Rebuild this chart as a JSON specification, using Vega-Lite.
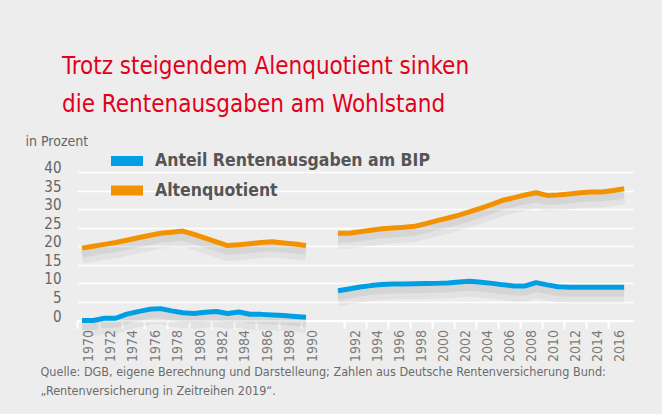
{
  "$schema": "https://vega.github.io/schema/vega-lite/v6.json",
  "autosize": {"type": "none"},
  "padding": {"left": 77, "top": 172, "right": 29, "bottom": 93.5},
  "width": 556,
  "height": 148.5,
  "background": "#ededed",
  "config": {
    "view": {"stroke": null},
    "font": "DejaVu Sans Condensed, sans-serif"
  },
  "title": {
    "text": ["Trotz steigendem Alenquotient sinken", "die Rentenausgaben am Wohlstand"],
    "anchor": "start",
    "frame": "group",
    "color": "#e3001b",
    "fontSize": 24,
    "fontWeight": "normal",
    "font": "DejaVu Sans Condensed, sans-serif",
    "lineHeight": 38,
    "dx": -15,
    "offset": 17
  },
  "data": {
    "values": [
      {"Jahr": 1970, "Wert": 0, "Reihe": "Anteil Rentenausgaben am BIP", "Gebiet": "West"},
      {"Jahr": 1971, "Wert": 0, "Reihe": "Anteil Rentenausgaben am BIP", "Gebiet": "West"},
      {"Jahr": 1972, "Wert": 0.6, "Reihe": "Anteil Rentenausgaben am BIP", "Gebiet": "West"},
      {"Jahr": 1973, "Wert": 0.6, "Reihe": "Anteil Rentenausgaben am BIP", "Gebiet": "West"},
      {"Jahr": 1974, "Wert": 1.7, "Reihe": "Anteil Rentenausgaben am BIP", "Gebiet": "West"},
      {"Jahr": 1975, "Wert": 2.4, "Reihe": "Anteil Rentenausgaben am BIP", "Gebiet": "West"},
      {"Jahr": 1976, "Wert": 3.0, "Reihe": "Anteil Rentenausgaben am BIP", "Gebiet": "West"},
      {"Jahr": 1977, "Wert": 3.2, "Reihe": "Anteil Rentenausgaben am BIP", "Gebiet": "West"},
      {"Jahr": 1978, "Wert": 2.6, "Reihe": "Anteil Rentenausgaben am BIP", "Gebiet": "West"},
      {"Jahr": 1979, "Wert": 2.1, "Reihe": "Anteil Rentenausgaben am BIP", "Gebiet": "West"},
      {"Jahr": 1980, "Wert": 1.9, "Reihe": "Anteil Rentenausgaben am BIP", "Gebiet": "West"},
      {"Jahr": 1981, "Wert": 2.2, "Reihe": "Anteil Rentenausgaben am BIP", "Gebiet": "West"},
      {"Jahr": 1982, "Wert": 2.4, "Reihe": "Anteil Rentenausgaben am BIP", "Gebiet": "West"},
      {"Jahr": 1983, "Wert": 1.9, "Reihe": "Anteil Rentenausgaben am BIP", "Gebiet": "West"},
      {"Jahr": 1984, "Wert": 2.3, "Reihe": "Anteil Rentenausgaben am BIP", "Gebiet": "West"},
      {"Jahr": 1985, "Wert": 1.7, "Reihe": "Anteil Rentenausgaben am BIP", "Gebiet": "West"},
      {"Jahr": 1986, "Wert": 1.65, "Reihe": "Anteil Rentenausgaben am BIP", "Gebiet": "West"},
      {"Jahr": 1987, "Wert": 1.5, "Reihe": "Anteil Rentenausgaben am BIP", "Gebiet": "West"},
      {"Jahr": 1988, "Wert": 1.35, "Reihe": "Anteil Rentenausgaben am BIP", "Gebiet": "West"},
      {"Jahr": 1989, "Wert": 1.1, "Reihe": "Anteil Rentenausgaben am BIP", "Gebiet": "West"},
      {"Jahr": 1990, "Wert": 0.85, "Reihe": "Anteil Rentenausgaben am BIP", "Gebiet": "West"},
      {"Jahr": 1991, "Wert": 8.0, "Reihe": "Anteil Rentenausgaben am BIP", "Gebiet": "Gesamt"},
      {"Jahr": 1992, "Wert": 8.5, "Reihe": "Anteil Rentenausgaben am BIP", "Gebiet": "Gesamt"},
      {"Jahr": 1993, "Wert": 9.0, "Reihe": "Anteil Rentenausgaben am BIP", "Gebiet": "Gesamt"},
      {"Jahr": 1994, "Wert": 9.4, "Reihe": "Anteil Rentenausgaben am BIP", "Gebiet": "Gesamt"},
      {"Jahr": 1995, "Wert": 9.7, "Reihe": "Anteil Rentenausgaben am BIP", "Gebiet": "Gesamt"},
      {"Jahr": 1996, "Wert": 9.8, "Reihe": "Anteil Rentenausgaben am BIP", "Gebiet": "Gesamt"},
      {"Jahr": 1997, "Wert": 9.85, "Reihe": "Anteil Rentenausgaben am BIP", "Gebiet": "Gesamt"},
      {"Jahr": 1998, "Wert": 9.9, "Reihe": "Anteil Rentenausgaben am BIP", "Gebiet": "Gesamt"},
      {"Jahr": 1999, "Wert": 9.95, "Reihe": "Anteil Rentenausgaben am BIP", "Gebiet": "Gesamt"},
      {"Jahr": 2000, "Wert": 10.0, "Reihe": "Anteil Rentenausgaben am BIP", "Gebiet": "Gesamt"},
      {"Jahr": 2001, "Wert": 10.1, "Reihe": "Anteil Rentenausgaben am BIP", "Gebiet": "Gesamt"},
      {"Jahr": 2002, "Wert": 10.4, "Reihe": "Anteil Rentenausgaben am BIP", "Gebiet": "Gesamt"},
      {"Jahr": 2003, "Wert": 10.6, "Reihe": "Anteil Rentenausgaben am BIP", "Gebiet": "Gesamt"},
      {"Jahr": 2004, "Wert": 10.3, "Reihe": "Anteil Rentenausgaben am BIP", "Gebiet": "Gesamt"},
      {"Jahr": 2005, "Wert": 10.0, "Reihe": "Anteil Rentenausgaben am BIP", "Gebiet": "Gesamt"},
      {"Jahr": 2006, "Wert": 9.6, "Reihe": "Anteil Rentenausgaben am BIP", "Gebiet": "Gesamt"},
      {"Jahr": 2007, "Wert": 9.3, "Reihe": "Anteil Rentenausgaben am BIP", "Gebiet": "Gesamt"},
      {"Jahr": 2008, "Wert": 9.3, "Reihe": "Anteil Rentenausgaben am BIP", "Gebiet": "Gesamt"},
      {"Jahr": 2009, "Wert": 10.2, "Reihe": "Anteil Rentenausgaben am BIP", "Gebiet": "Gesamt"},
      {"Jahr": 2010, "Wert": 9.6, "Reihe": "Anteil Rentenausgaben am BIP", "Gebiet": "Gesamt"},
      {"Jahr": 2011, "Wert": 9.1, "Reihe": "Anteil Rentenausgaben am BIP", "Gebiet": "Gesamt"},
      {"Jahr": 2012, "Wert": 8.95, "Reihe": "Anteil Rentenausgaben am BIP", "Gebiet": "Gesamt"},
      {"Jahr": 2013, "Wert": 8.95, "Reihe": "Anteil Rentenausgaben am BIP", "Gebiet": "Gesamt"},
      {"Jahr": 2014, "Wert": 8.95, "Reihe": "Anteil Rentenausgaben am BIP", "Gebiet": "Gesamt"},
      {"Jahr": 2015, "Wert": 8.95, "Reihe": "Anteil Rentenausgaben am BIP", "Gebiet": "Gesamt"},
      {"Jahr": 2016, "Wert": 8.95, "Reihe": "Anteil Rentenausgaben am BIP", "Gebiet": "Gesamt"},
      {"Jahr": 2017, "Wert": 8.95, "Reihe": "Anteil Rentenausgaben am BIP", "Gebiet": "Gesamt"},
      {"Jahr": 1970, "Wert": 19.5, "Reihe": "Altenquotient", "Gebiet": "West"},
      {"Jahr": 1971, "Wert": 20.0, "Reihe": "Altenquotient", "Gebiet": "West"},
      {"Jahr": 1972, "Wert": 20.5, "Reihe": "Altenquotient", "Gebiet": "West"},
      {"Jahr": 1973, "Wert": 21.0, "Reihe": "Altenquotient", "Gebiet": "West"},
      {"Jahr": 1974, "Wert": 21.6, "Reihe": "Altenquotient", "Gebiet": "West"},
      {"Jahr": 1975, "Wert": 22.3, "Reihe": "Altenquotient", "Gebiet": "West"},
      {"Jahr": 1976, "Wert": 22.9, "Reihe": "Altenquotient", "Gebiet": "West"},
      {"Jahr": 1977, "Wert": 23.5, "Reihe": "Altenquotient", "Gebiet": "West"},
      {"Jahr": 1978, "Wert": 23.8, "Reihe": "Altenquotient", "Gebiet": "West"},
      {"Jahr": 1979, "Wert": 24.1, "Reihe": "Altenquotient", "Gebiet": "West"},
      {"Jahr": 1980, "Wert": 23.2, "Reihe": "Altenquotient", "Gebiet": "West"},
      {"Jahr": 1981, "Wert": 22.2, "Reihe": "Altenquotient", "Gebiet": "West"},
      {"Jahr": 1982, "Wert": 21.2, "Reihe": "Altenquotient", "Gebiet": "West"},
      {"Jahr": 1983, "Wert": 20.2, "Reihe": "Altenquotient", "Gebiet": "West"},
      {"Jahr": 1984, "Wert": 20.4, "Reihe": "Altenquotient", "Gebiet": "West"},
      {"Jahr": 1985, "Wert": 20.7, "Reihe": "Altenquotient", "Gebiet": "West"},
      {"Jahr": 1986, "Wert": 21.0, "Reihe": "Altenquotient", "Gebiet": "West"},
      {"Jahr": 1987, "Wert": 21.2, "Reihe": "Altenquotient", "Gebiet": "West"},
      {"Jahr": 1988, "Wert": 20.9, "Reihe": "Altenquotient", "Gebiet": "West"},
      {"Jahr": 1989, "Wert": 20.6, "Reihe": "Altenquotient", "Gebiet": "West"},
      {"Jahr": 1990, "Wert": 20.2, "Reihe": "Altenquotient", "Gebiet": "West"},
      {"Jahr": 1991, "Wert": 23.5, "Reihe": "Altenquotient", "Gebiet": "Gesamt"},
      {"Jahr": 1992, "Wert": 23.5, "Reihe": "Altenquotient", "Gebiet": "Gesamt"},
      {"Jahr": 1993, "Wert": 23.9, "Reihe": "Altenquotient", "Gebiet": "Gesamt"},
      {"Jahr": 1994, "Wert": 24.3, "Reihe": "Altenquotient", "Gebiet": "Gesamt"},
      {"Jahr": 1995, "Wert": 24.7, "Reihe": "Altenquotient", "Gebiet": "Gesamt"},
      {"Jahr": 1996, "Wert": 24.9, "Reihe": "Altenquotient", "Gebiet": "Gesamt"},
      {"Jahr": 1997, "Wert": 25.1, "Reihe": "Altenquotient", "Gebiet": "Gesamt"},
      {"Jahr": 1998, "Wert": 25.4, "Reihe": "Altenquotient", "Gebiet": "Gesamt"},
      {"Jahr": 1999, "Wert": 26.1, "Reihe": "Altenquotient", "Gebiet": "Gesamt"},
      {"Jahr": 2000, "Wert": 26.9, "Reihe": "Altenquotient", "Gebiet": "Gesamt"},
      {"Jahr": 2001, "Wert": 27.6, "Reihe": "Altenquotient", "Gebiet": "Gesamt"},
      {"Jahr": 2002, "Wert": 28.4, "Reihe": "Altenquotient", "Gebiet": "Gesamt"},
      {"Jahr": 2003, "Wert": 29.3, "Reihe": "Altenquotient", "Gebiet": "Gesamt"},
      {"Jahr": 2004, "Wert": 30.3, "Reihe": "Altenquotient", "Gebiet": "Gesamt"},
      {"Jahr": 2005, "Wert": 31.3, "Reihe": "Altenquotient", "Gebiet": "Gesamt"},
      {"Jahr": 2006, "Wert": 32.4, "Reihe": "Altenquotient", "Gebiet": "Gesamt"},
      {"Jahr": 2007, "Wert": 33.1, "Reihe": "Altenquotient", "Gebiet": "Gesamt"},
      {"Jahr": 2008, "Wert": 33.8, "Reihe": "Altenquotient", "Gebiet": "Gesamt"},
      {"Jahr": 2009, "Wert": 34.4, "Reihe": "Altenquotient", "Gebiet": "Gesamt"},
      {"Jahr": 2010, "Wert": 33.7, "Reihe": "Altenquotient", "Gebiet": "Gesamt"},
      {"Jahr": 2011, "Wert": 33.8, "Reihe": "Altenquotient", "Gebiet": "Gesamt"},
      {"Jahr": 2012, "Wert": 34.1, "Reihe": "Altenquotient", "Gebiet": "Gesamt"},
      {"Jahr": 2013, "Wert": 34.4, "Reihe": "Altenquotient", "Gebiet": "Gesamt"},
      {"Jahr": 2014, "Wert": 34.6, "Reihe": "Altenquotient", "Gebiet": "Gesamt"},
      {"Jahr": 2015, "Wert": 34.6, "Reihe": "Altenquotient", "Gebiet": "Gesamt"},
      {"Jahr": 2016, "Wert": 35.0, "Reihe": "Altenquotient", "Gebiet": "Gesamt"},
      {"Jahr": 2017, "Wert": 35.5, "Reihe": "Altenquotient", "Gebiet": "Gesamt"}
    ]
  },
  "encoding": {
    "x": {
      "field": "Jahr",
      "type": "quantitative",
      "scale": {"domain": [1969.55, 1990, 1991, 2017.8], "range": [0, 229, 261, 556], "zero": false, "nice": false},
      "axis": {
        "values": [1970, 1972, 1974, 1976, 1978, 1980, 1982, 1984, 1986, 1988, 1990, 1992, 1994, 1996, 1998, 2000, 2002, 2004, 2006, 2008, 2010, 2012, 2014, 2016],
        "format": "d",
        "labelAngle": -90,
        "labelFontSize": 14,
        "labelColor": "#7a7a7a",
        "labelPadding": 1,
        "tickOffset": -5,
        "labelOffset": 11,
        "tickColor": "#ffffff",
        "tickWidth": 2,
        "tickSize": 8,
        "domainColor": "#ffffff",
        "domainWidth": 2,
        "grid": false,
        "title": ["Quelle: DGB, eigene Berechnung und Darstelleung; Zahlen aus Deutsche Rentenversicherung Bund:", "„Rentenversicherung in Zeitreihen 2019“."],
        "titleFontSize": 12.5,
        "titleFontWeight": "normal",
        "titleColor": "#6b6b6b",
        "titleAlign": "left",
        "titleAnchor": "start",
        "titleBaseline": "alphabetic",
        "titleX": -37,
        "titleY": 55,
        "titleLineHeight": 19
      }
    },
    "y": {
      "field": "Wert",
      "type": "quantitative",
      "scale": {"domain": [0, 40], "nice": false},
      "axis": {
        "values": [0, 5, 10, 15, 20, 25, 30, 35, 40],
        "ticks": false,
        "domain": false,
        "grid": true,
        "gridColor": "#ffffff",
        "gridWidth": 1.6,
        "labelFontSize": 15,
        "labelColor": "#666666",
        "labelPadding": 16,
        "labelOffset": -4.5,
        "title": "in Prozent",
        "titleAngle": 0,
        "titleAlign": "left",
        "titleBaseline": "alphabetic",
        "titleX": -52,
        "titleY": -27,
        "titleFontSize": 14,
        "titleFontWeight": "normal",
        "titleColor": "#666666"
      }
    },
    "detail": [{"field": "Reihe"}, {"field": "Gebiet"}]
  },
  "layer": [
    {
      "mark": {"type": "line", "color": "#000000", "opacity": 0.045, "strokeWidth": 15, "yOffset": 8, "strokeCap": "butt"}
    },
    {
      "mark": {"type": "line", "color": "#000000", "opacity": 0.055, "strokeWidth": 7, "yOffset": 6, "strokeCap": "butt"}
    },
    {
      "mark": {"type": "line", "strokeWidth": 5, "strokeCap": "butt", "strokeJoin": "round"},
      "encoding": {
        "color": {
          "field": "Reihe",
          "type": "nominal",
          "scale": {"domain": ["Anteil Rentenausgaben am BIP", "Altenquotient"], "range": ["#009fe3", "#f39200"]},
          "legend": {
            "orient": "none",
            "legendX": 34,
            "legendY": -21,
            "title": null,
            "symbolType": "M-1.7,0H1.7",
            "symbolSize": 400,
            "symbolStrokeWidth": 10,
            "labelFontSize": 17.5,
            "labelFontWeight": "bold",
            "labelColor": "#555555",
            "labelOffset": 14,
            "labelLimit": 400,
            "clipHeight": 20,
            "rowPadding": 9.5
          }
        }
      }
    }
  ]
}
